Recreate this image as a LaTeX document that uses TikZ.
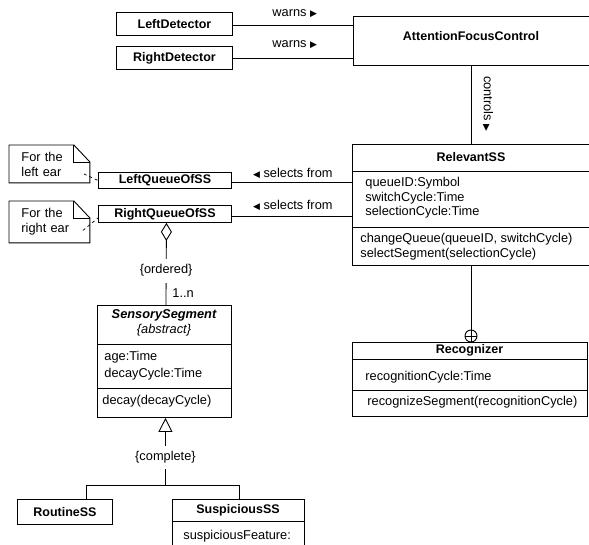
\documentclass[tikz,border=0pt]{standalone}
\usepackage{fontspec}
\setmainfont{Liberation Sans}
\newfontfamily\symfont{DejaVu Sans}
\newcommand\trisym{\symfont\fontsize{9}{10}\selectfont}
\usetikzlibrary{arrows.meta}
\begin{document}
\begin{tikzpicture}[x=1pt,y=-1pt,line width=0.9pt,
  font=\fontsize{12.8}{15}\selectfont,
  cls/.style={draw,rectangle,inner sep=0pt,anchor=north west},
  ttl/.style={font=\fontsize{12.5}{15}\selectfont\bfseries,inner sep=0pt},
  txt/.style={anchor=west,inner sep=0pt},
  lbl/.style={inner sep=0pt},
  notebox/.style={rectangle,anchor=north west,inner xsep=12pt,inner ysep=0pt,text width=56pt,align=left},
  notelink/.style={line width=0.7pt,dash pattern=on 3pt off 3pt}]
\useasboundingbox (0,0) rectangle (589,544);
\clip (0,0) rectangle (589,544);
\fill[white] (0,0) rectangle (589,544);

% Detectors and attention control
\node[cls,minimum width=116pt,minimum height=23pt] (LD) at (116,12) {};
\node[ttl] (LDt) at (LD.center) {LeftDetector};
\node[cls,minimum width=116pt,minimum height=23pt] (RD) at (116,46) {};
\node[ttl] (RDt) at (RD.center) {RightDetector};
\node[cls,minimum width=250pt,minimum height=49pt] (AFC) at (353,16) {};
\node[ttl] (AFCt) at (471,36) {AttentionFocusControl};

\draw ([yshift=-1pt]LD.east) -- ([yshift=-1pt]LD.east -| AFC.west);
\draw ([yshift=-0.5pt]RD.east) -- ([yshift=-0.5pt]RD.east -| AFC.west);
\node[lbl,anchor=west] (w1) at (272,14) {warns {\trisym ▶}};
\node[lbl,anchor=west] (w2) at (272,45) {warns {\trisym ▶}};

% RelevantSS
\node[cls,minimum width=250pt,minimum height=121pt] (RS) at (352,144) {};
\node[ttl] (RSt) at (471,157) {RelevantSS};
\draw (RS.west |- 0,171) -- (RS.east |- 0,171);
\draw (RS.west |- 0,227) -- (RS.east |- 0,227);
\node[txt] (a1) at (365,183) {queueID:Symbol};
\node[txt] (a2) at (365,198) {switchCycle:Time};
\node[txt] (a3) at (365,212) {selectionCycle:Time};
\node[txt] (o1) at (360,239) {changeQueue(queueID, switchCycle)};
\node[txt] (o2) at (360,254) {selectSegment(selectionCycle)};

\coordinate (cx) at (471,0);
\draw (AFC.south -| cx) -- (RS.north -| cx);
\node[lbl,rotate=-90] (ctl) at (488,104) {controls {\trisym ▶}};

% Queues
\node[cls,minimum width=133pt,minimum height=16pt] (LQ) at (98,172) {};
\node[ttl] (LQt) at (LQ.center) {LeftQueueOfSS};
\node[cls,minimum width=133pt,minimum height=17pt] (RQ) at (98,205) {};
\node[ttl] (RQt) at (RQ.center) {RightQueueOfSS};
\draw ([yshift=-2pt]LQ.east) -- ([yshift=-2pt]LQ.east -| RS.west);
\draw ([yshift=-2.5pt]RQ.east) -- ([yshift=-2.5pt]RQ.east -| RS.west);
\node[lbl,anchor=east] (s1) at (333,173) {{\trisym ◀} selects from};
\node[lbl,anchor=east] (s2) at (333,205) {{\trisym ◀} selects from};

% Notes
\node[notebox,minimum height=37pt] (N1) at (9,145) {For the\\left ear};
\draw (N1.north west) -- ([xshift=-16pt]N1.north east) -- ([yshift=-17pt]N1.north east) -- (N1.south east) -- (N1.south west) -- cycle;
\draw ([xshift=-16pt]N1.north east) -- ([xshift=-16pt,yshift=-17pt]N1.north east) -- ([yshift=-17pt]N1.north east);
\node[notebox,minimum height=41pt] (N2) at (9,201) {For the\\right ear};
\draw (N2.north west) -- ([xshift=-16pt]N2.north east) -- ([yshift=-17pt]N2.north east) -- (N2.south east) -- (N2.south west) -- cycle;
\draw ([xshift=-16pt]N2.north east) -- ([xshift=-16pt,yshift=-17pt]N2.north east) -- ([yshift=-17pt]N2.north east);
\draw[notelink] ([shift={(-6,10)}]N1.east) -- (LQ.west);
\draw[notelink] ([shift={(-7,8.5)}]N2.east) -- ([yshift=-4pt]RQ.west);

% SensorySegment
\node[cls,minimum width=134pt,minimum height=112pt] (SS) at (97,305) {};
\node[lbl,font=\fontsize{12.8}{15}\selectfont\bfseries\itshape] (SSt) at (164,315) {SensorySegment};
\node[lbl,font=\fontsize{12.8}{15}\selectfont\itshape] (SSa) at (164,330) {\{abstract\}};
\draw (SS.west |- 0,344) -- (SS.east |- 0,344);
\draw (SS.west |- 0,388) -- (SS.east |- 0,388);
\node[txt] (b1) at (104,357) {age:Time};
\node[txt] (b2) at (104,374) {decayCycle:Time};
\node[txt] (b3) at (102,401) {decay(decayCycle)};

\draw[{Diamond[open,length=18pt,width=11pt,line width=0.9pt]}-] ([xshift=1.5pt]RQ.south) -- node[lbl,fill=white,pos=0.58,minimum height=24pt] (ord) {\{ordered\}} ([xshift=1.5pt]SS.north);
\node[lbl,anchor=west] (mult) at (172,293) {1..n};

% Subclasses
\node[cls,minimum width=95pt,minimum height=25pt] (RT) at (17,499) {};
\node[ttl] (RTt) at (RT.center) {RoutineSS};
\node[cls,minimum width=132pt,minimum height=70pt] (SU) at (172,499) {};
\node[ttl] (SUt) at (238,510) {SuspiciousSS};
\draw (SU.west |- 0,521) -- (SU.east |- 0,521);
\node[txt] (c1) at (183,536) {suspiciousFeature:};

\coordinate (bl) at (86,485);
\coordinate (br) at (239,485);
\draw (RT.north -| bl) -- (bl) -- (br) -- (SU.north -| br);
\draw[-{Triangle[open,length=14pt,width=14pt,line width=0.9pt]}] ([xshift=1pt]bl -| SS.south) -- node[lbl,fill=white,pos=0.41,minimum height=23pt] (cmp) {\{complete\}} ([xshift=1pt]SS.south);

% Recognizer
\node[cls,minimum width=235pt,minimum height=74pt] (RC) at (352,342) {};
\node[ttl] (RCt) at (469.5,350) {Recognizer};
\draw (RC.west |- 0,359) -- (RC.east |- 0,359);
\draw (RC.west |- 0,390) -- (RC.east |- 0,390);
\node[txt] (d1) at (365,377) {recognitionCycle:Time};
\node[txt] (d2) at (367,402) {recognizeSegment(recognitionCycle)};

\node[draw,circle,minimum size=12pt,inner sep=0pt] (circ) at (471,336) {};
\draw (circ.north) -- (circ.south) (circ.west) -- (circ.east);
\draw (RS.south -| circ) -- (circ.north);
\end{tikzpicture}
\end{document}
